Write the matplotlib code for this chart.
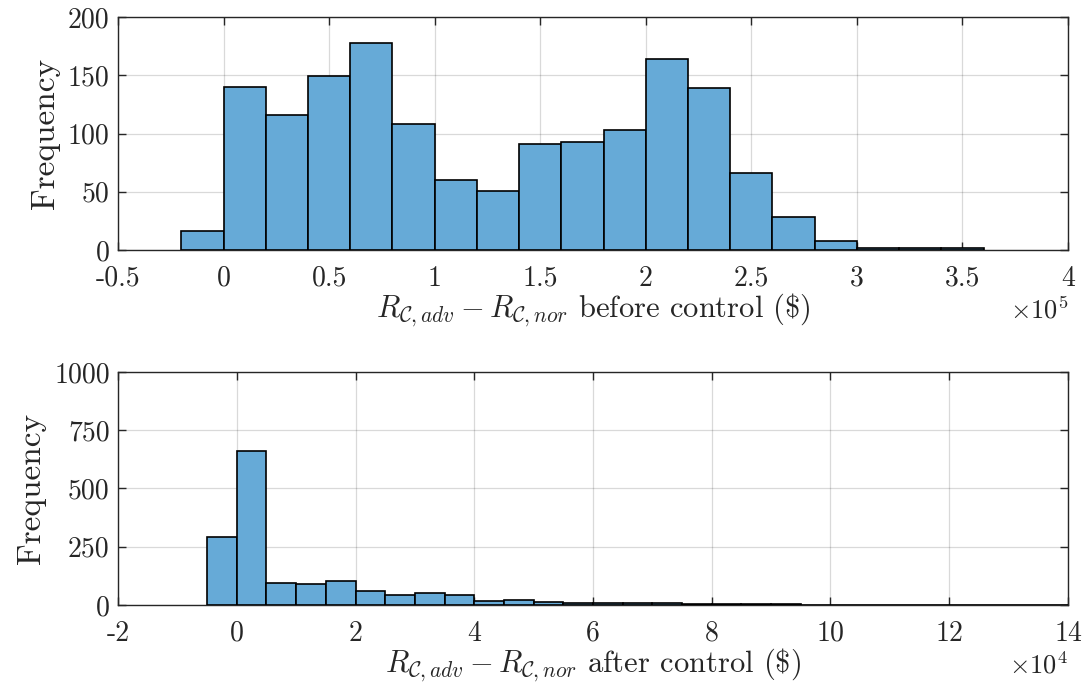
import numpy as np
import matplotlib
matplotlib.use('Agg')
import matplotlib.pyplot as plt

# font setup to look like MATLAB's latex output
plt.rcParams['font.family'] = 'serif'
plt.rcParams['font.serif'] = ['cmr10']
plt.rcParams['mathtext.fontset'] = 'cm'
plt.rcParams['axes.unicode_minus'] = False

# before control: bin edges in units of 1e5
before_edges = np.round(np.arange(-0.2, 3.61, 0.2), 2)
before_counts = [16, 140, 116, 149, 178, 108, 60, 51, 91, 93, 103, 164, 139,
                 66, 28, 8, 2, 2, 2]

# after control: bin edges in units of 1e4
after_edges = np.round(np.arange(-0.5, 14.01, 0.5), 2)
after_counts = [290, 660, 93, 90, 103, 61, 44, 50, 41, 15, 20, 13, 10, 10, 8,
                7, 5, 4, 3, 3, 2, 2, 2, 2, 1, 2, 1, 1, 1]

before_xticks = [-0.5, 0, 0.5, 1, 1.5, 2, 2.5, 3, 3.5, 4]
before_xlabels = ['-0.5', '0', '0.5', '1', '1.5', '2', '2.5', '3', '3.5', '4']
before_yticks = [0, 50, 100, 150, 200]
after_xticks = [-2, 0, 2, 4, 6, 8, 10, 12, 14]
after_xlabels = ['-2', '0', '2', '4', '6', '8', '10', '12', '14']
after_yticks = [0, 250, 500, 750, 1000]

face = '#66aad7'
fs = 20

fig = plt.figure(figsize=(10.89, 6.93), dpi=100)
ax1 = fig.add_axes([0.1084, 0.6392, 0.8723, 0.3363])
ax2 = fig.add_axes([0.1084, 0.1270, 0.8723, 0.3362])


def style(ax, xticks, xlabels, yticks, xlim, ylim, xlabel, expo):
    ax.set_xlim(xlim)
    ax.set_ylim(ylim)
    ax.set_xticks(xticks)
    ax.set_xticklabels(xlabels, fontsize=fs)
    ax.set_yticks(yticks)
    ax.set_yticklabels([str(t) for t in yticks], fontsize=fs)
    ax.tick_params(direction='in', top=True, right=True, length=6,
                   width=1.0, color='#262626', labelcolor='#262626')
    ax.tick_params(axis='x', pad=11)
    ax.tick_params(axis='y', pad=6)
    ax.grid(True, color='#000000', alpha=0.15, linewidth=0.9)
    ax.set_axisbelow(True)
    for s in ax.spines.values():
        s.set_color('#262626')
        s.set_linewidth(1.0)
    ax.set_ylabel('Frequency', fontsize=24, color='#262626', labelpad=6)
    ax.set_xlabel(xlabel, fontsize=22, color='#262626', labelpad=0)
    ax.text(1.0, -0.2, r'$\times 10^{%d}$' % expo, transform=ax.transAxes,
            ha='right', va='top', fontsize=19, color='#262626')


ax1.hist(before_edges[:-1], bins=before_edges, weights=before_counts,
         color=face, edgecolor='black', linewidth=1.2, zorder=3)
style(ax1, before_xticks, before_xlabels, before_yticks, (-0.5, 4), (0, 200),
      r'$R_{\mathcal{C},adv} - R_{\mathcal{C},nor}$ before control (\$)', 5)

ax2.hist(after_edges[:-1], bins=after_edges, weights=after_counts,
         color=face, edgecolor='black', linewidth=1.2, zorder=3)
style(ax2, after_xticks, after_xlabels, after_yticks, (-2, 14), (0, 1000),
      r'$R_{\mathcal{C},adv} - R_{\mathcal{C},nor}$ after control (\$)', 4)

fig.savefig('out.png', dpi=100)
